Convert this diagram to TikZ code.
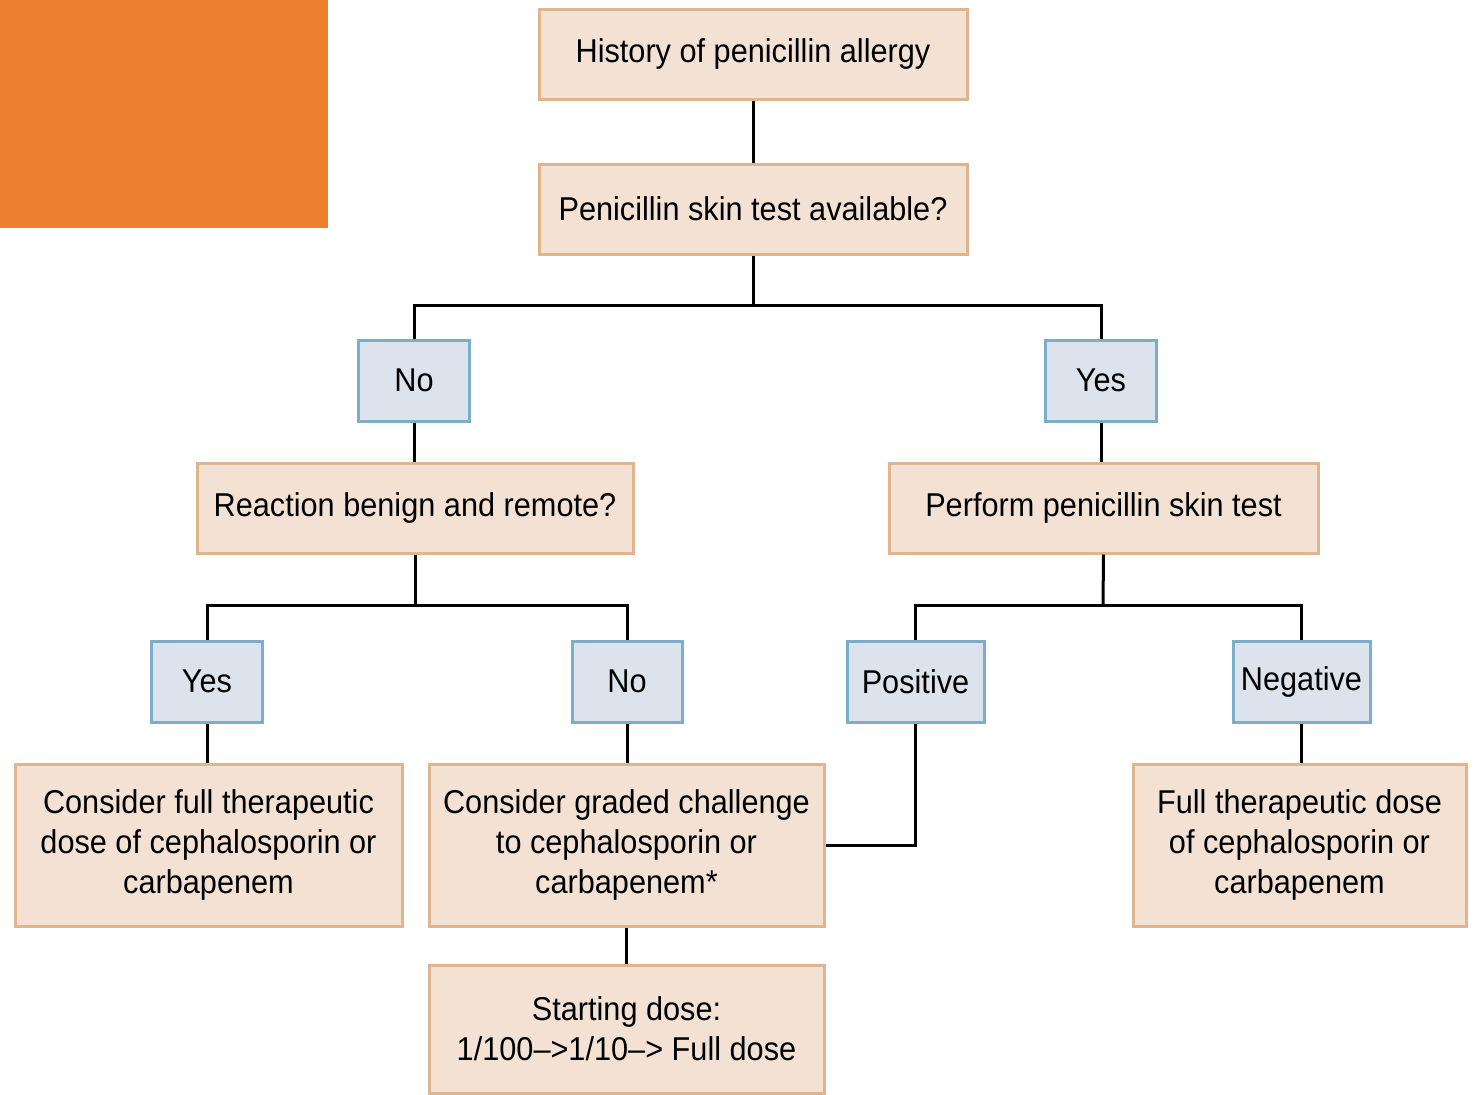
\documentclass[tikz,border=0pt]{standalone}
\usepackage{fontspec}
\setmainfont{Liberation Sans}[FakeStretch=0.93]
\definecolor{tanfill}{HTML}{F3E2D3}
\definecolor{tanline}{HTML}{E0B48C}
\definecolor{bluefill}{HTML}{DCE3ED}
\definecolor{blueline}{HTML}{7BAFC9}
\definecolor{orangeblk}{HTML}{EE7F30}
\begin{document}
\begin{tikzpicture}[x=1pt,y=-1pt,
  tanbox/.style={draw=tanline,fill=tanfill,line width=3pt,inner sep=0pt,align=center,
    font=\fontsize{33}{40}\selectfont},
  bluebox/.style={draw=blueline,fill=bluefill,line width=3pt,inner sep=0pt,align=center,
    font=\fontsize{33}{40}\selectfont,minimum height=81pt},
  conn/.style={line width=3pt,black}]
\useasboundingbox (0,0) rectangle (1473,1095);
\fill[orangeblk] (0,0) rectangle (328,228);
\node[tanbox,minimum width=428pt,minimum height=90pt] (hist) at (753,54) {History of penicillin allergy};
\node[tanbox,minimum width=428pt,minimum height=90pt] (avail) at (753,209) {Penicillin skin test available?};
\node[bluebox,minimum width=111pt] (no1) at (414,380.5) {No};
\node[bluebox,minimum width=111pt] (yes1) at (1101,380.5) {Yes};
\node[tanbox,minimum width=436pt,minimum height=90pt] (react) at (415,508) {Reaction benign and remote?};
\node[tanbox,minimum width=429pt,minimum height=90pt] (perf) at (1103.5,508) {Perform penicillin skin test};
\node[bluebox,minimum width=111pt] (yes2) at (207,681.5) {Yes};
\node[bluebox,minimum width=110pt] (no2) at (627,681.5) {No};
\node[bluebox,minimum width=137pt] (pos) at (915.5,681.5) {Positive};
\node[bluebox,minimum width=137pt] (neg) at (1301.5,681.5) {Negative};
\node[tanbox,minimum width=387pt,minimum height=162pt] (full1) at (208.5,845) {Consider full therapeutic\\dose of cephalosporin or\\carbapenem};
\node[tanbox,minimum width=395pt,minimum height=162pt] (graded) at (626.5,845) {Consider graded challenge\\to cephalosporin or\\carbapenem*};
\node[tanbox,minimum width=333pt,minimum height=162pt] (full2) at (1299.5,845) {Full therapeutic dose\\of cephalosporin or\\carbapenem};
\node[tanbox,minimum width=395pt,minimum height=128pt] (start) at (626.5,1029) {Starting dose:\\1/100–>1/10–> Full dose};
\coordinate (j1) at (753,305);
\coordinate (j2) at (415,605);
\coordinate (j3) at (1103,605);
\draw[conn] (hist.south) -- (avail.north);
\draw[conn] (avail.south) -- (j1);
\draw[conn] (j1) -| (no1.north);
\draw[conn] (j1) -| (yes1.north);
\draw[conn] (no1.south) -- (no1.south |- react.north);
\draw[conn] (yes1.south) -- (yes1.south |- perf.north);
\draw[conn] (react.south) -- (j2);
\draw[conn] (j2) -| (yes2.north);
\draw[conn] (j2) -| (no2.north);
\draw[conn] (perf.south) -- (j3);
\draw[conn] (j3) -| (pos.north);
\draw[conn] (j3) -| (neg.north);
\draw[conn] (yes2.south) -- (yes2.south |- full1.north);
\draw[conn] (no2.south) -- (no2.south |- graded.north);
\draw[conn] (neg.south) -- (neg.south |- full2.north);
\draw[conn] (pos.south) |- (graded.east);
\draw[conn] (graded.south) -- (start.north);
\end{tikzpicture}
\end{document}
